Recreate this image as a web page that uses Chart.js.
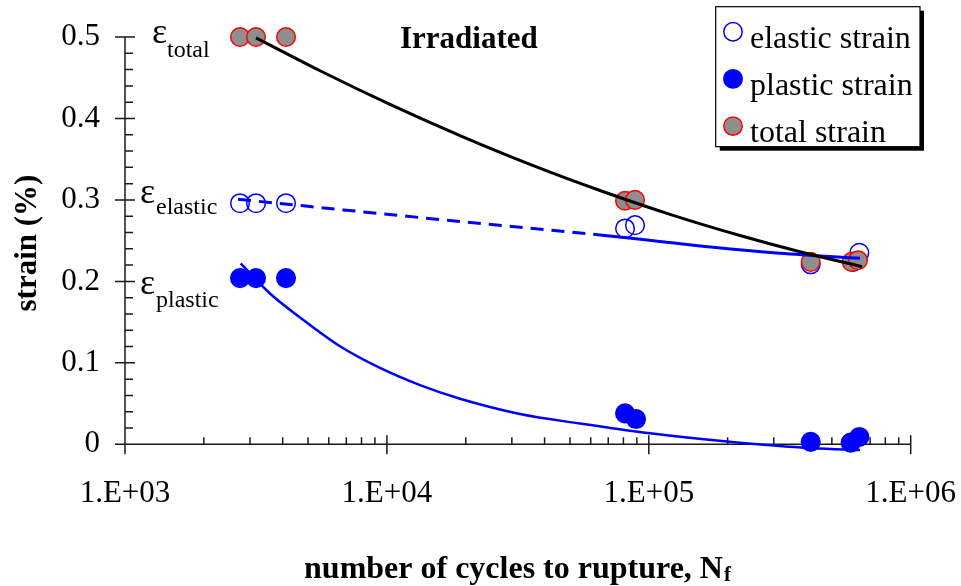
<!DOCTYPE html>
<html><head><meta charset="utf-8">
<script src="https://cdn.jsdelivr.net/npm/chart.js@4.4.1/dist/chart.umd.min.js"></script>
<style>html,body{margin:0;padding:0;background:#fff;}</style>
</head><body>
<canvas id="c" width="961" height="586"></canvas>
<script>
// ---- data ----
const xTickValues = [1e3, 1e4, 1e5, 1e6];
const xTickLabels = ['1.E+03', '1.E+04', '1.E+05', '1.E+06'];
const yTickValues = [0, 0.1, 0.2, 0.3, 0.4, 0.5];
const yTickLabels = ['0', '0.1', '0.2', '0.3', '0.4', '0.5'];

const seriesNames = ['elastic strain', 'plastic strain', 'total strain'];

const elasticN = [2749, 3164, 4119, 81150, 88580, 415200, 602100, 636500];
const elasticStrain = [0.296, 0.296, 0.296, 0.265, 0.269, 0.221, 0.224, 0.235];
const plasticN = [2749, 3164, 4119, 81150, 89360, 415200, 590000, 636500];
const plasticStrain = [0.204, 0.204, 0.204, 0.038, 0.031, 0.003, 0.002, 0.009];
const totalN = [2749, 3164, 4119, 81150, 88580, 415200, 595200, 629200];
const totalStrain = [0.500, 0.500, 0.500, 0.299, 0.300, 0.224, 0.224, 0.226];

// fitted curves
const totalFitN = [3164, 5554, 10276, 19020, 35190, 65120, 120500, 222960, 377800, 651700];
const totalFitStrain = [0.499, 0.4586, 0.4173, 0.379, 0.3437, 0.3116, 0.2823, 0.2563, 0.2363, 0.218];
const elasticFitN = [2701, 16680, 65120, 98400, 175800, 316800, 640000];
const elasticFitStrain = [0.3008, 0.2753, 0.257, 0.2508, 0.2418, 0.2345, 0.2283];
const elasticDashEndN = 65120;
const plasticFitN = [2766, 3577, 4659, 6621, 9412, 13380, 19020, 32230, 54610, 101060, 198900, 423600, 640400];
const plasticFitStrain = [0.2222, 0.1851, 0.1557, 0.1203, 0.0937, 0.0726, 0.0559, 0.0372, 0.0255, 0.0135, 0.0034, -0.0049, -0.007];

const FONT = "'Liberation Serif', 'Times New Roman', serif";
const pts = (xs, ys) => xs.map((v, i) => ({x: v, y: ys[i]}));

const datasets = [
  {label: 'total fit', data: pts(totalFitN, totalFitStrain), showLine: true, pointRadius: 0,
   borderColor: '#000', borderWidth: 3, cubicInterpolationMode: 'monotone', order: 1, clip: false, fit: true},
  {label: 'elastic fit', data: pts(elasticFitN, elasticFitStrain), showLine: true, pointRadius: 0,
   borderColor: '#0000ff', borderWidth: 3, cubicInterpolationMode: 'monotone', order: 1, clip: false, fit: true,
   segment: {borderDash: c => c.p1.parsed.x <= elasticDashEndN ? [13, 8] : undefined}},
  {label: 'plastic fit', data: pts(plasticFitN, plasticFitStrain), showLine: true, pointRadius: 0,
   borderColor: '#0000ff', borderWidth: 2.5, cubicInterpolationMode: 'monotone', order: 1, clip: false, fit: true},
  {label: seriesNames[0], data: pts(elasticN, elasticStrain), pointRadius: 9.3, borderWidth: 1.5,
   pointBackgroundColor: 'rgba(0,0,0,0)', pointBorderColor: '#0000ff', backgroundColor: 'rgba(0,0,0,0)', borderColor: '#0000ff', order: 5, clip: false},
  {label: seriesNames[1], data: pts(plasticN, plasticStrain), pointRadius: 9.3, borderWidth: 1.5,
   pointBackgroundColor: '#0000ff', pointBorderColor: '#0000ff', backgroundColor: '#0000ff', borderColor: '#0000ff', order: 4, clip: false},
  {label: seriesNames[2], data: pts(totalN, totalStrain), pointRadius: 9.3, borderWidth: 1.5,
   pointBackgroundColor: '#8e8e8e', pointBorderColor: '#ff0000', backgroundColor: '#8e8e8e', borderColor: '#ff0000', order: 3, clip: false}
];

const axesPlugin = {
  id: 'axesDraw',
  beforeDatasetsDraw(chart) {
    const {ctx, scales: {x, y}} = chart;
    const bottom = y.getPixelForValue(0), top = y.getPixelForValue(0.5);
    const left = x.getPixelForValue(1e3), right = x.getPixelForValue(1e6);
    ctx.save();
    ctx.strokeStyle = '#1a1a1a'; ctx.lineWidth = 1.5;
    ctx.beginPath();
    ctx.moveTo(left, top); ctx.lineTo(left, bottom);
    ctx.moveTo(left, bottom); ctx.lineTo(right, bottom);
    yTickValues.forEach(v => { const p = y.getPixelForValue(v); ctx.moveTo(left - 10, p); ctx.lineTo(left + 10, p); });
    for (let i = 1; i < 25; i++) { if (i % 5 === 0) continue; const p = y.getPixelForValue(i * 0.02); ctx.moveTo(left, p); ctx.lineTo(left + 8, p); }
    xTickValues.forEach(v => { const p = x.getPixelForValue(v); ctx.moveTo(p, bottom - 9); ctx.lineTo(p, bottom + 10); });
    for (let d = 3; d < 6; d++) for (let k = 2; k < 10; k++) { const p = x.getPixelForValue(k * Math.pow(10, d)); ctx.moveTo(p, bottom - 7); ctx.lineTo(p, bottom); }
    ctx.stroke();
    ctx.restore();
  }
};

const textPlugin = {
  id: 'texts',
  afterDraw(chart) {
    const {ctx, scales: {x, y}, chartArea: a} = chart;
    ctx.save();
    ctx.fillStyle = '#000';
    ctx.textBaseline = 'alphabetic';
    ctx.textAlign = 'left';
    const eps = (ex, eb, sub, sx, sb) => {
      ctx.font = '36px ' + FONT; ctx.fillText('\u03B5', ex, eb);
      ctx.font = '24px ' + FONT; ctx.fillText(sub, sx, sb);
    };
    eps(a.left + 27, y.getPixelForValue(0.5) + 6, 'total', a.left + 42, y.getPixelForValue(0.5) + 20);
    eps(a.left + 15, y.getPixelForValue(0.3) + 3, 'elastic', a.left + 31, y.getPixelForValue(0.3) + 14);
    eps(a.left + 15, y.getPixelForValue(0.2) + 13, 'plastic', a.left + 31, y.getPixelForValue(0.2) + 26);
    ctx.font = 'bold 31px ' + FONT;
    ctx.fillText('Irradiated', 400, 47.5);
    ctx.save();
    ctx.translate(28, 243); ctx.rotate(-Math.PI / 2);
    ctx.textAlign = 'center'; ctx.textBaseline = 'middle';
    ctx.font = 'bold 31px ' + FONT;
    ctx.fillText('strain (%)', 0, 0);
    ctx.restore();
    const main = 'number of cycles to rupture, N', sub = 'f';
    ctx.font = 'bold 32px ' + FONT; const w1 = ctx.measureText(main).width;
    ctx.font = 'bold 21px ' + FONT; const w2 = ctx.measureText(sub).width;
    const cx = 517, sx0 = cx - (w1 + w2) / 2;
    ctx.font = 'bold 32px ' + FONT; ctx.fillText(main, sx0, 578);
    ctx.font = 'bold 21px ' + FONT; ctx.fillText(sub, sx0 + w1 + 1, 581);
    // legend
    const bx = 715.7, by = 6.7, bw = 204.3, bh = 140;
    ctx.fillStyle = '#000'; ctx.fillRect(bx + 4, by + 4, bw, bh);
    ctx.fillStyle = '#fff'; ctx.fillRect(bx, by, bw, bh);
    ctx.strokeStyle = '#000'; ctx.lineWidth = 1.2; ctx.strokeRect(bx, by, bw, bh);
    const items = chart.data.datasets.filter(d => !d.fit);
    items.forEach((d, i) => {
      const my = 31.7 + i * 47.2, ty = 48 + i * 47;
      ctx.beginPath(); ctx.arc(733, my, 9.2, 0, Math.PI * 2);
      ctx.fillStyle = d.pointBackgroundColor; ctx.fill();
      ctx.lineWidth = 1.5; ctx.strokeStyle = d.pointBorderColor; ctx.stroke();
      ctx.fillStyle = '#000'; ctx.font = '32px ' + FONT; ctx.textAlign = 'left';
      ctx.fillText(d.label, 750, ty);
    });
    ctx.restore();
  }
};

new Chart(document.getElementById('c'), {
  type: 'scatter',
  data: {datasets},
  options: {
    responsive: false,
    animation: false,
    layout: {padding: {top: 37, right: 50.3, left: 0, bottom: 0}},
    plugins: {legend: {display: false}, tooltip: {enabled: false}},
    scales: {
      x: {
        type: 'logarithmic', min: 1e3, max: 1e6,
        grid: {display: false, drawTicks: false}, border: {display: false},
        afterBuildTicks: s => { s.ticks = xTickValues.map(v => ({value: v})); },
        ticks: {autoSkip: false, maxRotation: 0, color: '#000', padding: 31,
          font: {family: FONT, size: 31}, callback: (v, i) => xTickLabels[i]},
        afterFit: s => { s.height = 586 - 444.3; s.paddingLeft = 0; s.paddingRight = 0; }
      },
      y: {
        min: 0, max: 0.5,
        grid: {display: false, drawTicks: false}, border: {display: false},
        afterBuildTicks: s => { s.ticks = yTickValues.map(v => ({value: v})); },
        ticks: {autoSkip: false, color: '#000', padding: 25,
          font: {family: FONT, size: 31}, callback: (v, i) => yTickLabels[i]},
        afterFit: s => { s.width = 125; s.paddingTop = 0; s.paddingBottom = 0; }
      }
    }
  },
  plugins: [axesPlugin, textPlugin]
});
</script>
</body></html>
